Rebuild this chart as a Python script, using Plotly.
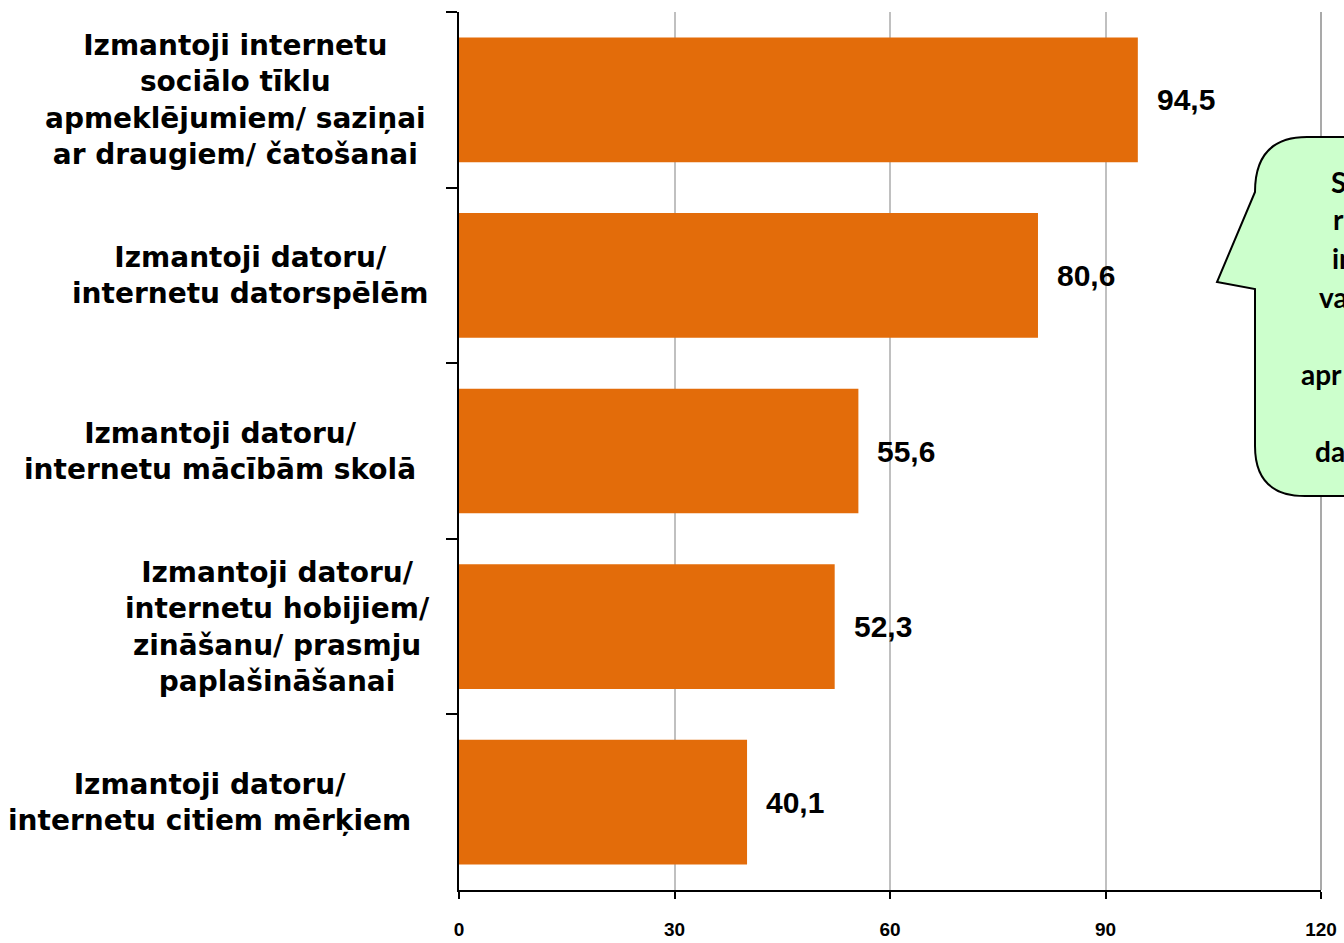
import plotly.graph_objects as go

categories = [
    "Izmantoji internetu<br>sociālo tīklu<br>apmeklējumiem/ saziņai<br>ar draugiem/ čatošanai",
    "Izmantoji datoru/<br>internetu datorspēlēm",
    "Izmantoji datoru/<br>internetu mācībām skolā",
    "Izmantoji datoru/<br>internetu hobijiem/<br>zināšanu/ prasmju<br>paplašināšanai",
    "Izmantoji datoru/<br>internetu citiem mērķiem",
]
values = [94.5, 80.6, 55.6, 52.3, 40.1]
value_labels = ["94,5", "80,6", "55,6", "52,3", "40,1"]
x_ticks = [0, 30, 60, 90, 120]
callout_fragments = ["S", "r", "in", "va", "apr", "da"]

W, H = 1344, 943
ML, MR, MT, MB = 459, 23, 12, 53
PW, PH = W - ML - MR, H - MT - MB


def px(x):
    return (x - ML) / PW


def py(y):
    return (H - MB - y) / PH


FONT = "Liberation Sans, Arial, sans-serif"
CAT_FONT = "DejaVu Sans, Liberation Sans, sans-serif"
ids = [f"c{i}" for i in range(len(categories))]
label_centers = [235, 250, 220, 277, 209]

fig = go.Figure()
fig.add_trace(go.Bar(
    y=ids, x=values, orientation="h",
    marker=dict(color="#E36C0A", line=dict(width=0)),
    hoverinfo="skip",
))

annotations = []
for cid, lab, cx in zip(ids, categories, label_centers):
    annotations.append(dict(
        x=px(cx), xref="paper", y=cid, yref="y", text=lab, showarrow=False,
        xanchor="center", yanchor="middle", align="center",
        font=dict(family=CAT_FONT, size=28, color="#000", weight="bold"),
    ))
for cid, v, lab in zip(ids, values, value_labels):
    annotations.append(dict(
        x=v, xref="x", y=cid, yref="y", text=lab, showarrow=False,
        xanchor="left", yanchor="middle", xshift=17, yshift=0,
        font=dict(family=FONT, size=30, color="#000", weight="bold"),
    ))

frag_pos = [(1331, 182), (1333, 219), (1332, 258), (1319, 297), (1301, 374), (1315, 451)]
for t, (fx, fy) in zip(callout_fragments, frag_pos):
    annotations.append(dict(
        x=px(fx), xref="paper", y=py(fy), yref="paper", text=t, showarrow=False,
        xanchor="left", yanchor="middle", xshift=-2,
        font=dict(family="Lato, Open Sans, sans-serif", size=28, color="#000", weight="bold"),
    ))

path_pts = (
    f"M {px(1307)},{py(137)} L {px(1420)},{py(137)} L {px(1420)},{py(496)} "
    f"L {px(1305)},{py(496)} Q {px(1255)},{py(496)} {px(1255)},{py(446)} "
    f"L {px(1255)},{py(289)} L {px(1217)},{py(282)} L {px(1255)},{py(192)} "
    f"Q {px(1255)},{py(137)} {px(1307)},{py(137)} Z"
)

shapes = [
    dict(type="line", xref="paper", yref="paper", x0=1, x1=1, y0=0, y1=1,
         line=dict(color="#8C8C8C", width=1.5), layer="below"),
    dict(type="path", xref="paper", yref="paper", path=path_pts,
         fillcolor="#CCFFCC", line=dict(color="#000", width=2), layer="above"),
]

fig.update_layout(
    width=W, height=H,
    margin=dict(l=ML, r=MR, t=MT, b=MB, pad=0, autoexpand=False),
    paper_bgcolor="white", plot_bgcolor="white",
    showlegend=False, bargap=0.29,
    annotations=annotations, shapes=shapes,
    xaxis=dict(
        range=[0, 120], tickvals=x_ticks, ticktext=[str(t) for t in x_ticks],
        automargin=False, ticklabeloverflow="allow",
        showgrid=True, gridcolor="#C0C0C0", gridwidth=1.5, zeroline=False,
        showline=True, linecolor="#000", linewidth=2,
        ticks="outside", ticklen=7, tickcolor="#000", tickwidth=2,
        ticklabelstandoff=14,
        tickfont=dict(family="Liberation Sans Narrow, Liberation Sans, Arial", size=19, color="#000", weight="bold"),
    ),
    yaxis=dict(
        categoryorder="array", categoryarray=ids, autorange="reversed",
        automargin=False,
        showticklabels=False, showgrid=False, zeroline=False,
        showline=True, linecolor="#000", linewidth=2,
        ticks="outside", ticklen=11, tickcolor="#000", tickwidth=2,
        tickson="boundaries",
    ),
)

fig.write_html(
    "out.html",
    config={"displayModeBar": False},
    post_script="document.body.style.margin='0';document.body.style.overflow='hidden';",
)
